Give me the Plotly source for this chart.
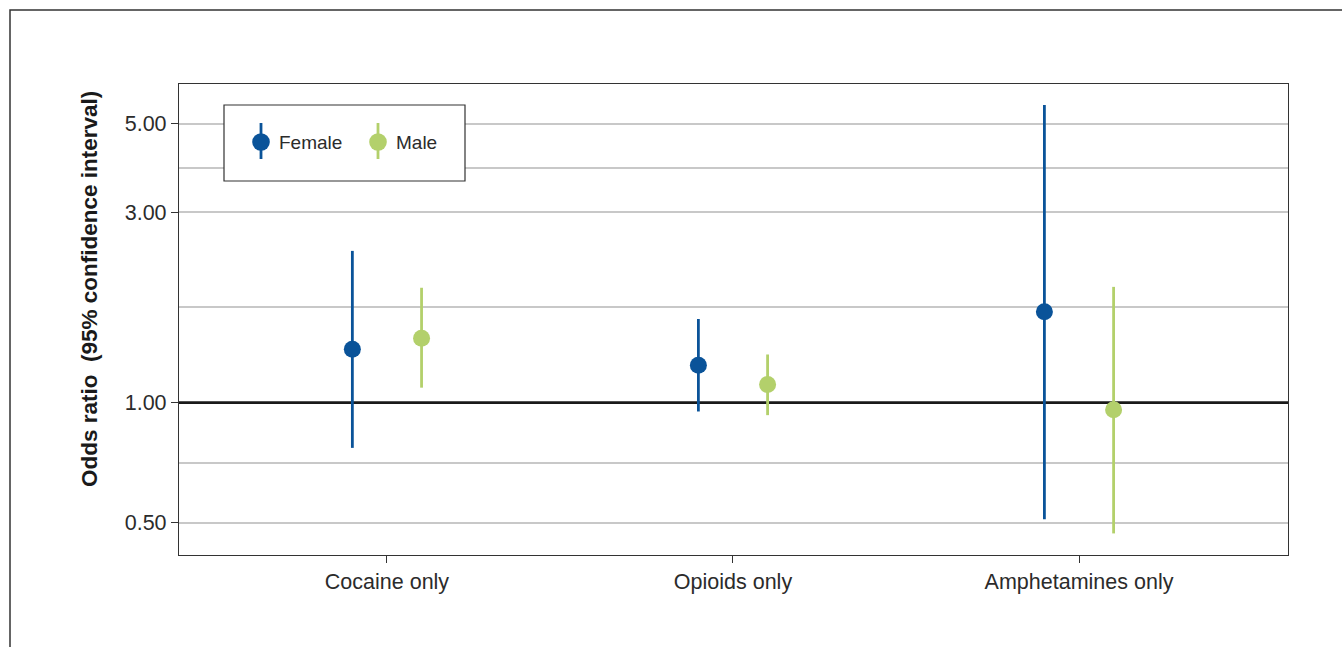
import plotly.graph_objects as go

# Odds ratios with 95% confidence intervals, by substance group and sex
categories = ["Cocaine only", "Opioids only", "Amphetamines only"]

female_or = [1.36, 1.24, 1.69]
female_lo = [0.77, 0.95, 0.51]
female_hi = [2.40, 1.62, 5.57]

male_or = [1.45, 1.11, 0.96]
male_lo = [1.09, 0.93, 0.47]
male_hi = [1.94, 1.32, 1.95]

y_tick_vals = [0.5, 1.0, 3.0, 5.0]
y_tick_text = ["0.50", "1.00", "3.00", "5.00"]
# minor gridlines at geometric midpoints between labelled breaks
y_minor_vals = [0.5 ** 0.5, 3 ** 0.5, 15 ** 0.5]

FEMALE = "#0A5399"
MALE = "#B3D06B"
TEXT = "#2b2b2b"
FONT = "Liberation Sans, Arial, sans-serif"
DODGE = 0.1
X_RANGE = [-0.601, 2.604]

W, H = 1342, 647
L, R, T, B = 179, 54, 84, 92
PW, PH = W - L - R, H - T - B


def px(x):
    return (x - L) / PW


def py(y):
    return (H - B - y) / PH


fig = go.Figure()

for name, color, est, lo, hi, shift in [
    ("Female", FEMALE, female_or, female_lo, female_hi, -DODGE),
    ("Male", MALE, male_or, male_lo, male_hi, DODGE),
]:
    fig.add_trace(go.Scatter(
        x=[i + shift for i in range(len(categories))],
        y=est,
        mode="markers",
        name=name,
        showlegend=False,
        marker=dict(size=17, color=color),
        error_y=dict(
            type="data", symmetric=False,
            array=[h - e for h, e in zip(hi, est)],
            arrayminus=[e - l for e, l in zip(est, lo)],
            color=color, thickness=2.8, width=0,
        ),
    ))

shapes = [
    # reference line at OR = 1, above the grid but beneath the points
    dict(type="line", xref="x", yref="y", x0=X_RANGE[0], x1=X_RANGE[1], y0=1, y1=1,
         line=dict(color="#1a1a1a", width=2.6), layer="between"),
    # outer frame
    dict(type="rect", xref="paper", yref="paper",
         x0=px(10), x1=px(W + 20), y0=py(10), y1=py(H + 20),
         line=dict(color="#333333", width=1.5), fillcolor="rgba(0,0,0,0)"),
    # legend box
    dict(type="rect", xref="paper", yref="paper",
         x0=px(224), x1=px(465), y0=py(105), y1=py(181),
         line=dict(color="#333333", width=1.2), fillcolor="white", layer="above"),
]

annotations = [
    dict(text="<b>Odds ratio  (95% confidence interval)</b>", textangle=-90,
         xref="paper", yref="paper", x=px(89), y=py(289),
         xanchor="center", yanchor="middle", showarrow=False,
         font=dict(size=22.5, color="#1a1a1a", family=FONT)),
]

# legend keys: point with a vertical interval line
for name, color, cx, tx in [("Female", FEMALE, 261, 277), ("Male", MALE, 378, 394)]:
    shapes.append(dict(type="line", xref="paper", yref="paper",
                       x0=px(cx), x1=px(cx), y0=py(123), y1=py(159),
                       line=dict(color=color, width=2.8), layer="above"))
    shapes.append(dict(type="circle", xref="paper", yref="paper",
                       xsizemode="pixel", ysizemode="pixel",
                       xanchor=px(cx), yanchor=py(142),
                       x0=-8.8, x1=8.8, y0=-8.8, y1=8.8,
                       fillcolor=color, line=dict(width=0), layer="above"))
    annotations.append(dict(text=name, xref="paper", yref="paper",
                            x=px(tx), y=py(142), xanchor="left", yanchor="middle",
                            showarrow=False,
                            font=dict(size=19, color=TEXT, family=FONT)))

fig.update_layout(
    width=W, height=H,
    margin=dict(l=L, r=R, t=T, b=B),
    paper_bgcolor="white", plot_bgcolor="white",
    font=dict(family=FONT, color=TEXT, size=21.5),
    showlegend=False,
    shapes=shapes,
    annotations=annotations,
    xaxis=dict(
        range=X_RANGE,
        tickmode="array", tickvals=list(range(len(categories))), ticktext=categories,
        ticks="outside", ticklen=7, tickcolor="#333333", tickwidth=1.2,
        showgrid=False, zeroline=False,
        showline=True, mirror=True, linecolor="#333333", linewidth=1.2,
        tickfont=dict(size=21.5, color=TEXT),
    ),
    yaxis=dict(
        type="log",
        range=[-0.382, 0.7985],
        tickmode="array", tickvals=y_tick_vals, ticktext=y_tick_text,
        ticks="outside", ticklen=7, tickcolor="#333333", tickwidth=1.2,
        ticklabelstandoff=0,
        showgrid=True, gridcolor="#c8c8c8", gridwidth=1.8,
        minor=dict(tickmode="array", tickvals=y_minor_vals, showgrid=True,
                   gridcolor="#c8c8c8", gridwidth=1.8, ticks=""),
        zeroline=False,
        showline=True, mirror=True, linecolor="#333333", linewidth=1.2,
        tickfont=dict(size=21.5, color=TEXT),
    ),
)

fig.write_html("out.html")
